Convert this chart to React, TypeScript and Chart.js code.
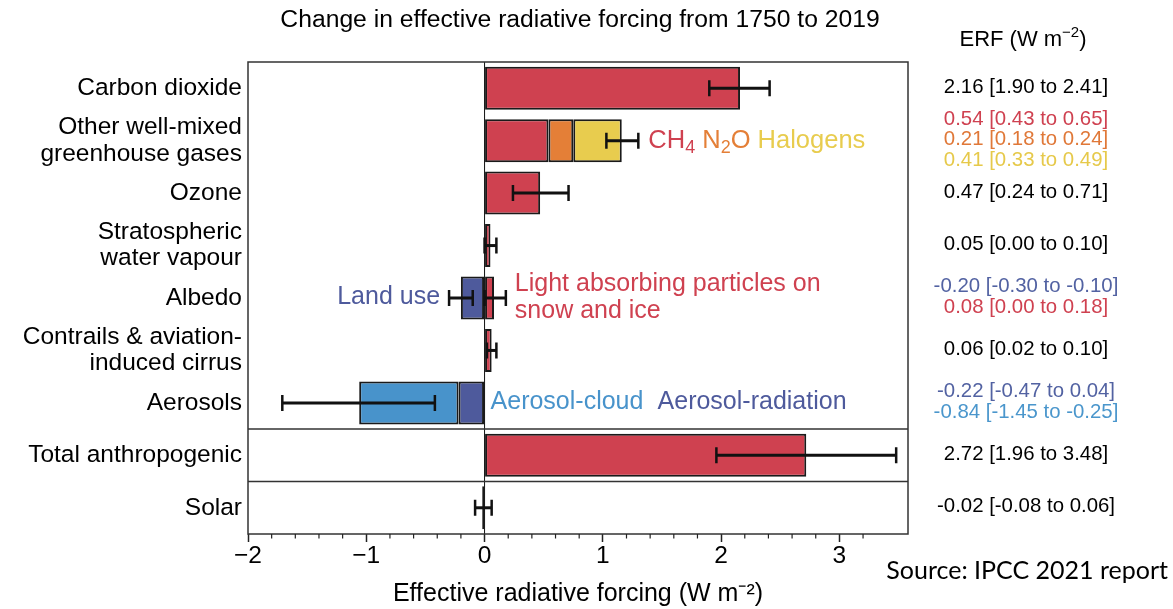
import React, { useEffect, useRef } from "react";
import { Chart, registerables } from "chart.js";

Chart.register(...registerables);

// ---------- data ----------
const categories: string[][] = [
  ["Carbon dioxide"],
  ["Other well-mixed", "greenhouse gases"],
  ["Ozone"],
  ["Stratospheric", "water vapour"],
  ["Albedo"],
  ["Contrails & aviation-", "induced cirrus"],
  ["Aerosols"],
  ["Total anthropogenic"],
  ["Solar"],
];

// red segments (CO2, CH4, ozone, strat. H2O, light-absorbing particles, contrails, total)
const redValues = [2.16, 0.54, 0.47, 0.05, 0.08, 0.06, null, 2.72, null];
const n2oValues = [null, 0.21, null, null, null, null, null, null, null];
const halogenValues = [null, 0.41, null, null, null, null, null, null, null];
// land use (albedo) and aerosol-radiation
const darkBlueValues = [null, null, null, null, -0.2, null, -0.22, null, null];
const aerosolCloudValues = [null, null, null, null, null, null, -0.84, null, null];
const solarValues = [null, null, null, null, null, null, null, null, -0.02];

// error bars: [category index, low, high]
const errorRanges: [number, number, number][] = [
  [0, 1.9, 2.41],
  [1, 1.03, 1.3],
  [2, 0.24, 0.71],
  [3, 0.0, 0.1],
  [4, -0.3, -0.1],
  [4, 0.0, 0.18],
  [5, 0.02, 0.1],
  [6, -1.71, -0.42],
  [7, 1.96, 3.48],
  [8, -0.08, 0.06],
];

const RED = "#cf4150";
const ORANGE = "#e47f37";
const YELLOW = "#e8cc4e";
const DARKBLUE = "#4e5a9c";
const LIGHTBLUE = "#4893cb";

// right-hand ERF column, per category
const erfTexts: { text: string; color: string }[][] = [
  [{ text: "2.16 [1.90 to 2.41]", color: "#000" }],
  [
    { text: "0.54 [0.43 to 0.65]", color: RED },
    { text: "0.21 [0.18 to 0.24]", color: "#e07838" },
    { text: "0.41 [0.33 to 0.49]", color: "#e6c94a" },
  ],
  [{ text: "0.47 [0.24 to 0.71]", color: "#000" }],
  [{ text: "0.05 [0.00 to 0.10]", color: "#000" }],
  [
    { text: "-0.20 [-0.30 to -0.10]", color: "#5262a2" },
    { text: "0.08 [0.00 to 0.18]", color: RED },
  ],
  [{ text: "0.06 [0.02 to 0.10]", color: "#000" }],
  [
    { text: "-0.22 [-0.47 to 0.04]", color: "#5262a2" },
    { text: "-0.84 [-1.45 to -0.25]", color: "#4a96cc" },
  ],
  [{ text: "2.72 [1.96 to 3.48]", color: "#000" }],
  [{ text: "-0.02 [-0.08 to 0.06]", color: "#000" }],
];

const TITLE = "Change in effective radiative forcing from 1750 to 2019";
const X_TITLE = "Effective radiative forcing (W m\u207B\u00B2)";
const SOURCE = "Source: IPCC 2021 report";

const FONT = "'Liberation Sans', Arial, Helvetica, sans-serif";

type Seg = { text: string; color: string; sub?: boolean; sup?: boolean };

function drawRich(
  ctx: CanvasRenderingContext2D,
  segs: Seg[],
  x: number,
  y: number,
  size: number,
  align: "left" | "center" | "right"
) {
  const small = Math.round(size * 0.7);
  const widths = segs.map((s) => {
    ctx.font = `${s.sub || s.sup ? small : size}px ${FONT}`;
    return ctx.measureText(s.text).width;
  });
  const total = widths.reduce((a, b) => a + b, 0);
  let cx = align === "left" ? x : align === "center" ? x - total / 2 : x - total;
  ctx.textAlign = "left";
  ctx.textBaseline = "middle";
  segs.forEach((s, i) => {
    ctx.font = `${s.sub || s.sup ? small : size}px ${FONT}`;
    ctx.fillStyle = s.color;
    const dy = s.sub ? size * 0.28 : s.sup ? -size * 0.33 : 0;
    ctx.fillText(s.text, cx, y + dy);
    cx += widths[i];
  });
}

const isInt = (v: number) => Math.abs(v - Math.round(v)) < 1e-6;

const decorPlugin = {
  id: "decor",
  beforeDatasetsDraw(chart: any) {
    const { ctx, chartArea } = chart;
    const xs = chart.scales.x;
    const x0 = xs.getPixelForValue(0);
    ctx.save();
    ctx.strokeStyle = "#111";
    ctx.lineWidth = 1;
    ctx.beginPath();
    ctx.moveTo(x0, chartArea.top);
    ctx.lineTo(x0, chartArea.bottom);
    ctx.stroke();
    ctx.restore();
  },
  afterDatasetsDraw(chart: any) {
    const { ctx, chartArea } = chart;
    const xs = chart.scales.x;
    const ys = chart.scales.y;
    ctx.save();
    // error bars
    ctx.strokeStyle = "#111";
    errorRanges.forEach(([i, lo, hi]) => {
      const y = ys.getPixelForValue(i);
      const a = xs.getPixelForValue(lo);
      const b = xs.getPixelForValue(hi);
      ctx.lineWidth = 3;
      ctx.beginPath();
      ctx.moveTo(a, y);
      ctx.lineTo(b, y);
      ctx.stroke();
      ctx.lineWidth = 2.5;
      ctx.beginPath();
      ctx.moveTo(a, y - 8);
      ctx.lineTo(a, y + 8);
      ctx.moveTo(b, y - 8);
      ctx.lineTo(b, y + 8);
      ctx.stroke();
    });
    // separators between aerosols / total / solar
    ctx.strokeStyle = "#333";
    ctx.lineWidth = 1.5;
    [6, 7].forEach((i) => {
      const y = (ys.getPixelForValue(i) + ys.getPixelForValue(i + 1)) / 2;
      ctx.beginPath();
      ctx.moveTo(chartArea.left, y);
      ctx.lineTo(chartArea.right, y);
      ctx.stroke();
    });
    // frame
    ctx.strokeRect(
      chartArea.left,
      chartArea.top,
      chartArea.right - chartArea.left,
      chartArea.bottom - chartArea.top
    );
    // minor ticks
    ctx.strokeStyle = "#222";
    ctx.lineWidth = 1.2;
    xs.ticks.forEach((t: any) => {
      const v = t.value;
      const onGrid = Math.abs(v * 5 - Math.round(v * 5)) < 1e-6;
      if (!onGrid || isInt(v)) return;
      const px = xs.getPixelForValue(v);
      ctx.beginPath();
      ctx.moveTo(px, chartArea.bottom);
      ctx.lineTo(px, chartArea.bottom + 4.5);
      ctx.stroke();
    });
    ctx.restore();
  },
  afterDraw(chart: any) {
    const { ctx, chartArea } = chart;
    const xs = chart.scales.x;
    const ys = chart.scales.y;
    ctx.save();
    // title
    drawRich(ctx, [{ text: TITLE, color: "#000" }], (chartArea.left + chartArea.right) / 2 + 2, 20, 24.7, "center");
    // ERF column
    const colX = chartArea.right + 118;
    drawRich(
      ctx,
      [
        { text: "ERF (W m", color: "#000" },
        { text: "\u22122", color: "#000", sup: true },
        { text: ")", color: "#000" },
      ],
      colX - 3,
      40,
      22,
      "center"
    );
    erfTexts.forEach((lines, i) => {
      const yc = ys.getPixelForValue(i);
      const lh = 20.5;
      lines.forEach((l, k) => {
        const y = yc + (k - (lines.length - 1) / 2) * lh - 1;
        drawRich(ctx, [{ text: l.text, color: l.color }], colX, y, 20.4, "center");
      });
    });
    // annotations
    const size = 25;
    const yG = ys.getPixelForValue(1);
    drawRich(
      ctx,
      [
        { text: "CH", color: RED },
        { text: "4", color: RED, sub: true },
        { text: " N", color: ORANGE },
        { text: "2", color: ORANGE, sub: true },
        { text: "O", color: ORANGE },
        { text: " Halogens", color: YELLOW },
      ],
      xs.getPixelForValue(1.3) + 10,
      yG,
      25.5,
      "left"
    );
    const yA = ys.getPixelForValue(4);
    drawRich(ctx, [{ text: "Land use", color: DARKBLUE }], xs.getPixelForValue(-0.3) - 9, yA - 1, size, "right");
    drawRich(ctx, [{ text: "Light absorbing particles on", color: RED }], xs.getPixelForValue(0.18) + 9, yA - 14, size, "left");
    drawRich(ctx, [{ text: "snow and ice", color: RED }], xs.getPixelForValue(0.18) + 9, yA + 13, size, "left");
    const yR = ys.getPixelForValue(6);
    drawRich(ctx, [{ text: "Aerosol-cloud", color: LIGHTBLUE }], xs.getPixelForValue(0) + 6, yR - 1, size, "left");
    drawRich(ctx, [{ text: "Aerosol-radiation", color: DARKBLUE }], xs.getPixelForValue(0) + 173, yR - 1, size, "left");
    // source
    ctx.font = `25px Lato, 'Open Sans', sans-serif`;
    ctx.fillStyle = "#000";
    ctx.textAlign = "right";
    ctx.textBaseline = "middle";
    ctx.fillText(SOURCE, chart.width - 5, 571);
    ctx.restore();
  },
};

export default function App() {
  const ref = useRef<HTMLCanvasElement | null>(null);
  useEffect(() => {
    if (!ref.current) return;
    const common = {
      borderColor: "#1a1a1a",
      borderWidth: 2,
      borderSkipped: false,
      barPercentage: 0.82,
      categoryPercentage: 1,
    };
    const chart = new Chart(ref.current, {
      type: "bar",
      data: {
        labels: categories,
        datasets: [
          { label: "red", data: redValues, backgroundColor: RED, ...common },
          { label: "N2O", data: n2oValues, backgroundColor: ORANGE, ...common },
          { label: "Halogens", data: halogenValues, backgroundColor: YELLOW, ...common },
          { label: "Land use / aerosol-radiation", data: darkBlueValues, backgroundColor: DARKBLUE, ...common },
          { label: "Aerosol-cloud", data: aerosolCloudValues, backgroundColor: LIGHTBLUE, ...common },
          { label: "Solar", data: solarValues, backgroundColor: "#3a3a3a", ...common },
        ] as any,
      },
      options: {
        indexAxis: "y",
        responsive: false,
        animation: false,
        layout: { padding: { top: 62, right: 265, left: 0, bottom: 0 } },
        plugins: { legend: { display: false }, tooltip: { enabled: false }, title: { display: false } },
        scales: {
          x: {
            type: "linear",
            stacked: true,
            min: -2,
            max: 3.58,
            border: { display: false },
            grid: {
              drawOnChartArea: false,
              drawTicks: true,
              tickLength: 8,
              tickWidth: 1.5,
              tickColor: (c: any) => (c.tick && isInt(c.tick.value) ? "#222" : "rgba(0,0,0,0)"),
            },
            ticks: {
              stepSize: 0.2,
              autoSkip: false,
              maxRotation: 0,
              padding: 0,
              color: "#000",
              font: { family: FONT, size: 24.5 },
              callback: (v: any) => {
                const n = Number(v);
                if (!isInt(n)) return "";
                const r = Math.round(n);
                return r < 0 ? "\u2212" + Math.abs(r) : String(r);
              },
            },
            title: {
              display: true,
              text: X_TITLE,
              color: "#000",
              font: { family: FONT, size: 25 },
              padding: { top: 0, bottom: 0 },
            },
            afterFit: (s: any) => {
              s.height = 75;
            },
          },
          y: {
            type: "category",
            stacked: true,
            border: { display: false },
            grid: { display: false, drawTicks: false },
            ticks: {
              autoSkip: false,
              color: "#000",
              padding: 6,
              font: { family: FONT, size: 24.5, lineHeight: 1.07 },
            },
            afterFit: (s: any) => {
              s.width = 248;
            },
          },
        },
      } as any,
      plugins: [decorPlugin],
    });
    return () => chart.destroy();
  }, []);
  return (
    <div style={{ position: "absolute", left: 0, top: 0, width: 1173, height: 609, background: "#fff" }}>
      <canvas ref={ref} width={1173} height={609} />
    </div>
  );
}
